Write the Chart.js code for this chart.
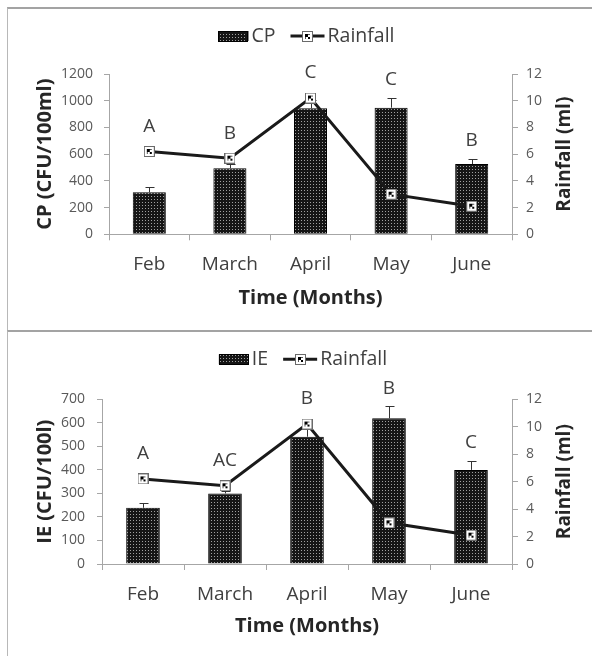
<!DOCTYPE html>
<html>
<head>
<meta charset="utf-8">
<script src="https://cdn.jsdelivr.net/npm/chart.js@4.4.1/dist/chart.umd.min.js"></script>
<style>
  html, body { margin: 0; padding: 0; background: #fff; }
  body { width: 592px; height: 656px; position: relative; overflow: hidden; }
  .frame { position: absolute; border-left: 1px solid #b8b8b8; border-top: 2px solid #a3a3a3; }
  canvas { position: absolute; left: 0; }
</style>
</head>
<body>
<div class="frame" style="left:7px;top:7px;width:620px;height:340px"></div>
<div class="frame" style="left:7px;top:330px;width:620px;height:340px"></div>
<canvas id="cpChart" width="592" height="330" style="top:0"></canvas>
<canvas id="ieChart" width="592" height="326" style="top:330px"></canvas>
<script>
// Sampling months
const months = ['Feb', 'March', 'April', 'May', 'June'];

// Monthly rainfall (ml), shared by both panels
const rainfall = [6.2, 5.7, 10.2, 3.0, 2.1];

// CP counts (CFU/100ml), upper error and significance groups
const cpCounts = [315, 494, 943, 948, 526];
const cpErrors = [37, 30, 60, 75, 38];
const cpGroups = ['A', 'B', 'C', 'C', 'B'];

// IE counts (CFU/100l), upper error and significance groups
const ieCounts = [239, 300, 541, 619, 400];
const ieErrors = [19, 12, 45, 52, 38];
const ieGroups = ['A', 'AC', 'B', 'B', 'C'];

// Axis ranges
const cpAxis = { max: 1200, step: 200 };
const ieAxis = { max: 700, step: 100 };
const rainAxis = { max: 12, step: 2 };

Chart.defaults.font.family = "'Open Sans', sans-serif";

const FONT = "'Open Sans', sans-serif";
const AXIS_GREY = '#a6a6a6';

// Dark dotted fill used by the bars
function dotTile() {
  const c = document.createElement('canvas');
  c.width = 3; c.height = 3;
  const g = c.getContext('2d');
  g.fillStyle = '#151515';
  g.fillRect(0, 0, 3, 3);
  g.fillStyle = '#a0a0a0';
  g.fillRect(1, 1, 1, 1);
  return c;
}

// Square checkered marker for the rainfall line
function markerImage() {
  const c = document.createElement('canvas');
  c.width = 11; c.height = 11;
  const g = c.getContext('2d');
  g.fillStyle = '#ffffff';
  g.fillRect(0, 0, 11, 11);
  g.strokeStyle = '#6a6a6a';
  g.lineWidth = 1;
  g.strokeRect(0.5, 0.5, 10, 10);
  g.fillStyle = '#000000';
  g.fillRect(3, 3, 3, 3);
  g.fillRect(6, 6, 2, 2);
  g.fillStyle = '#555555';
  g.fillRect(6, 3, 2, 1);
  g.fillRect(3, 6, 1, 2);
  return c;
}

const marker = markerImage();
const tile = dotTile();

function buildPanel(canvasId, cfg) {
  const canvas = document.getElementById(canvasId);
  const ctx = canvas.getContext('2d');
  const pattern = ctx.createPattern(tile, 'repeat');

  // Upper error bars over each column
  const errorBars = {
    id: 'errorBars',
    afterDatasetDraw(chart, args) {
      if (args.meta.type !== 'bar') return;
      const ys = chart.scales.y;
      const c = chart.ctx;
      c.save();
      c.strokeStyle = '#333333';
      c.lineWidth = 1;
      args.meta.data.forEach((bar, i) => {
        const top = Math.round(ys.getPixelForValue(cfg.counts[i] + cfg.errors[i])) + 0.5;
        const x = Math.round(bar.x) + 0.5;
        c.beginPath();
        c.moveTo(x, bar.y);
        c.lineTo(x, top);
        c.moveTo(x - 4, top);
        c.lineTo(x + 5, top);
        c.stroke();
      });
      c.restore();
    }
  };

  // Significance letters above each month
  const groupLetters = {
    id: 'groupLetters',
    afterDatasetsDraw(chart) {
      const bars = chart.getDatasetMeta(0).data;
      const points = chart.getDatasetMeta(1).data;
      const ys = chart.scales.y;
      const c = chart.ctx;
      c.save();
      c.font = '19px ' + FONT;
      c.fillStyle = '#404040';
      c.textAlign = 'center';
      c.textBaseline = 'middle';
      bars.forEach((bar, i) => {
        const capY = ys.getPixelForValue(cfg.counts[i] + cfg.errors[i]);
        const markY = points[i].y;
        const y = markY < capY ? markY - 25 : capY - 18;
        c.fillText(cfg.groups[i], bar.x, y);
      });
      c.restore();
    }
  };

  // Right-hand axis title, reading bottom to top like the left one
  const rightTitle = {
    id: 'rightTitle',
    afterDraw(chart) {
      const a = chart.chartArea;
      const c = chart.ctx;
      c.save();
      c.translate(565, (a.top + a.bottom) / 2);
      c.rotate(-Math.PI / 2);
      c.font = 'bold 19px ' + FONT;
      c.fillStyle = '#262626';
      c.textAlign = 'center';
      c.textBaseline = 'middle';
      c.fillText('Rainfall (ml)', 0, 0);
      c.restore();
    }
  };

  // Legend row: dotted swatch + series name, line-with-marker swatch + "Rainfall"
  const legendRow = {
    id: 'legendRow',
    afterDraw(chart) {
      const c = chart.ctx;
      const a = chart.chartArea;
      c.save();
      c.font = '19.5px ' + FONT;
      c.textBaseline = 'middle';
      c.fillStyle = '#404040';
      const w1 = c.measureText(cfg.name).width;
      const w2 = c.measureText('Rainfall').width;
      const total = 30 + 3 + w1 + 15 + 34 + 3 + w2;
      let x = (a.left + a.right) / 2 - 4 - total / 2;
      const y = cfg.legendY;
      c.fillStyle = pattern;
      c.fillRect(x, y - 5, 30, 10);
      c.strokeStyle = '#000';
      c.lineWidth = 1;
      c.strokeRect(Math.round(x) + 0.5, Math.round(y - 5) + 0.5, 29, 10);
      x += 33;
      c.fillStyle = '#404040';
      c.fillText(cfg.name, x, y);
      x += w1 + 15;
      c.strokeStyle = '#1a1a1a';
      c.lineWidth = 3;
      c.beginPath();
      c.moveTo(x, y);
      c.lineTo(x + 34, y);
      c.stroke();
      c.drawImage(marker, Math.round(x + 17 - 5.5), Math.round(y - 5.5));
      x += 37;
      c.fillText('Rainfall', x, y);
      c.restore();
    }
  };

  return new Chart(ctx, {
    type: 'bar',
    data: {
      labels: months,
      datasets: [
        {
          type: 'bar',
          label: cfg.name,
          data: cfg.counts,
          yAxisID: 'y',
          backgroundColor: pattern,
          borderColor: '#000000',
          borderWidth: 1,
          barPercentage: 0.41,
          categoryPercentage: 1,
          order: 1
        },
        {
          type: 'line',
          label: 'Rainfall',
          data: rainfall,
          yAxisID: 'y1',
          borderColor: '#1a1a1a',
          borderWidth: 3,
          tension: 0,
          pointStyle: marker,
          pointRadius: 6,
          order: 0
        }
      ]
    },
    options: {
      responsive: false,
      animation: false,
      devicePixelRatio: 1,
      layout: { padding: { top: cfg.areaTop, left: 0, right: 0, bottom: 0 } },
      plugins: {
        legend: { display: false },
        tooltip: { enabled: false }
      },
      scales: {
        x: {
          offset: true,
          grid: { offset: true, drawOnChartArea: false, tickLength: 6, color: AXIS_GREY },
          border: { color: AXIS_GREY },
          ticks: { font: { size: 19 }, color: '#404040', padding: 13 },
          title: {
            display: true, text: 'Time (Months)', color: '#262626',
            font: { size: 20, weight: 'bold' }, padding: { top: 0, bottom: cfg.xTitlePad }
          },
          afterFit: s => { s.height = cfg.height - cfg.areaBottom; }
        },
        y: {
          position: 'left',
          min: 0, max: cfg.axis.max,
          grid: { drawOnChartArea: false, tickLength: 5, color: AXIS_GREY },
          border: { color: AXIS_GREY },
          ticks: {
            stepSize: cfg.axis.step, font: { size: 14 }, color: '#595959', padding: cfg.yTickPad,
            callback: v => String(v)
          },
          title: {
            display: true, text: cfg.yTitle, color: '#262626',
            font: { size: 20, weight: 'bold' }, padding: { top: 33, bottom: 0 }
          },
          afterFit: s => { s.width = cfg.areaLeft; }
        },
        y1: {
          position: 'right',
          min: 0, max: rainAxis.max,
          grid: { drawOnChartArea: false, tickLength: 6, color: AXIS_GREY },
          border: { color: AXIS_GREY },
          ticks: {
            stepSize: rainAxis.step, font: { size: 14 }, color: '#595959', padding: 8,
            callback: v => String(v)
          },
          title: { display: false },
          afterFit: s => { s.width = 80; }
        }
      }
    },
    plugins: [errorBars, groupLetters, rightTitle, legendRow]
  });
}

buildPanel('cpChart', {
  name: 'CP', yTitle: 'CP (CFU/100ml)',
  counts: cpCounts, errors: cpErrors, groups: cpGroups, axis: cpAxis,
  height: 330, areaTop: 74, areaBottom: 234.3, areaLeft: 109,
  xTitlePad: 20, yTickPad: 11, legendY: 36
});

buildPanel('ieChart', {
  name: 'IE', yTitle: 'IE (CFU/100l)',
  counts: ieCounts, errors: ieErrors, groups: ieGroups, axis: ieAxis,
  height: 326, areaTop: 69.3, areaBottom: 234, areaLeft: 102,
  xTitlePad: 17.7, yTickPad: 12, legendY: 29.3
});
</script>
</body>
</html>
